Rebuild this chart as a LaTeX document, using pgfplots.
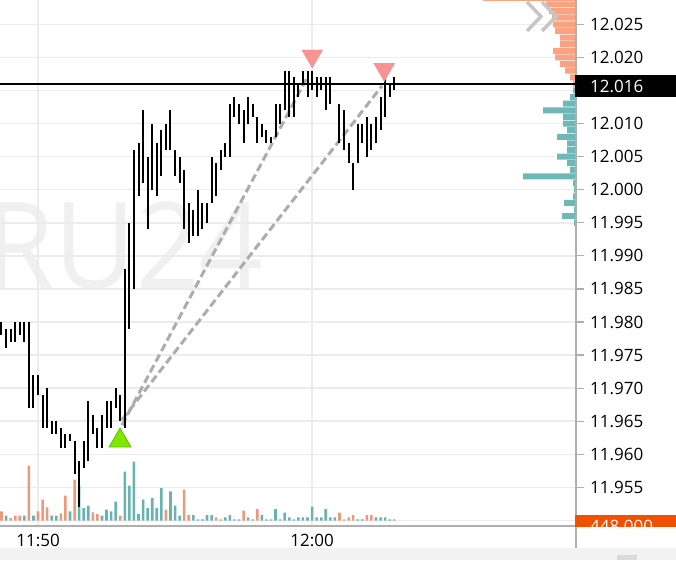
\documentclass[border=0pt]{standalone}
\usepackage{fontspec}
\setmainfont{Open Sans}
\usepackage{pgfplots}
\usepackage{pgfplotstable}
\pgfplotsset{compat=1.18}

\definecolor{upvol}{RGB}{104,178,178}
\definecolor{dnvol}{RGB}{238,152,122}
\definecolor{profup}{RGB}{110,184,184}
\definecolor{profdn}{RGB}{250,162,130}
\definecolor{gridc}{RGB}{236,236,236}
\definecolor{axisc}{RGB}{175,175,175}
\definecolor{markup}{RGB}{128,230,0}
\definecolor{markupdraw}{RGB}{96,190,0}
\definecolor{markdn}{RGB}{246,148,148}
\definecolor{trend}{RGB}{172,172,172}
\definecolor{volbox}{RGB}{240,80,0}

\newcommand\tickfont{\fontsize{17}{20}\selectfont}

% 10-second bars, k = 0 is 11:48:40 (k = 8 -> 11:50, k = 68 -> 12:00)
\pgfplotstableread{
k lo hi
0 11.978 11.980
1 11.976 11.979
2 11.977 11.979
3 11.977 11.980
4 11.978 11.980
5 11.977 11.980
6 11.967 11.980
7 11.967 11.972
8 11.969 11.972
9 11.964 11.969
10 11.964 11.970
11 11.963 11.965
12 11.963 11.965
13 11.961 11.964
14 11.961 11.963
15 11.962 11.963
16 11.957 11.962
17 11.952 11.959
18 11.958 11.962
19 11.959 11.968
20 11.963 11.966
21 11.961 11.964
22 11.961 11.966
23 11.964 11.968
24 11.964 11.968
25 11.967 11.970
26 11.965 11.969
27 11.964 11.988
28 11.979 11.995
29 11.985 12.006
30 11.999 12.007
31 12.001 12.012
32 11.994 12.005
33 12.000 12.010
34 11.999 12.007
35 12.002 12.009
36 12.006 12.010
37 12.006 12.012
38 12.002 12.006
39 12.001 12.005
40 11.994 12.003
41 11.992 11.998
42 11.993 11.997
43 11.993 12.000
44 11.994 11.998
45 11.995 11.998
46 11.998 12.005
47 11.999 12.004
48 12.003 12.006
49 12.005 12.007
50 12.005 12.013
51 12.011 12.014
52 12.010 12.013
53 12.007 12.012
54 12.010 12.014
55 12.011 12.013
56 12.007 12.011
57 12.008 12.010
58 12.007 12.009
59 12.007 12.008
60 12.008 12.013
61 12.010 12.013
62 12.012 12.018
63 12.011 12.018
64 12.011 12.017
65 12.014 12.016
66 12.016 12.018
67 12.014 12.018
68 12.015 12.018
69 12.014 12.017
70 12.015 12.017
71 12.012 12.017
72 12.013 12.017
74 12.007 12.013
75 12.006 12.012
76 12.004 12.007
77 12.000 12.004
78 12.004 12.010
79 12.007 12.010
80 12.005 12.011
81 12.006 12.010
82 12.007 12.011
83 12.009 12.014
84 12.011 12.017
85 12.014 12.016
86 12.015 12.017
}\price

% volume of the down bars
\pgfplotstableread{
k v
0 93
2 27
3 50
4 50
6 550
8 93
9 210
10 133
13 73
14 250
16 410
20 83
21 67
26 50
36 110
40 310
41 57
47 33
48 13
53 100
56 117
74 80
75 13
76 33
77 57
80 57
81 57
86 13
}\voldn

% volume of the up bars
\pgfplotstableread{
k v
1 50
5 50
7 50
11 50
12 50
15 93
17 350
18 127
19 150
22 50
23 110
24 93
25 190
27 490
28 350
29 590
30 67
31 210
32 127
33 227
34 127
35 327
37 293
38 150
39 50
42 57
43 13
44 13
45 57
46 57
49 33
50 57
51 13
52 13
54 33
55 13
57 57
58 13
59 13
60 117
61 13
62 80
63 33
64 13
65 33
66 33
67 33
68 140
69 33
70 33
71 117
72 33
73 33
78 13
79 13
82 33
83 33
84 33
85 13
}\volup

% volume profile by price level
\pgfplotstableread{
lvl len
12.029 93
12.028 30
12.027 27
12.026 24
12.025 23
12.024 21
12.023 16
12.022 16
12.021 23
12.020 21
12.019 16
12.018 11
12.017 6
12.016 3
}\profsell

\pgfplotstableread{
lvl len
12.015 3
12.014 6
12.013 13
12.012 33
12.011 13
12.010 13
12.009 9
12.008 19
12.007 9
12.006 9
12.005 19
12.004 9
12.003 6
12.002 53
12.001 3
12.000 2
11.999 3
11.998 12
11.997 2
11.996 14
11.995 2
}\profbuy

\pgfplotsset{
  chartbox/.style={scale only axis, width=576pt, height=526pt,
    at={(0pt,0pt)}, anchor=south west},
  pricelim/.style={xmin=-0.3284, xmax=125.79, ymin=11.94916, ymax=12.02868},
}

\begin{document}
\begin{tikzpicture}
\path[use as bounding box] (0pt,-34pt) rectangle (676pt,526pt);

% watermark
\node[anchor=base east, inner sep=0pt, text=gray!12,
  font=\fontsize{120}{120}\selectfont] at (264pt,238pt) {\scalebox{0.93}[1]{RU24}};

% frame, grid and ticks
\begin{axis}[chartbox, pricelim,
  axis x line*=bottom, axis y line*=right,
  axis line style={axisc, line width=1.7pt},
  xtick={8,68}, xticklabels={11:50,12:00},
  ytick={11.955,11.960,11.965,11.970,11.975,11.980,11.985,11.990,11.995,12.000,12.005,12.010,12.020,12.025},
  extra y ticks={11.950,12.015}, extra y tick labels={},
  scaled y ticks=false,
  grid=major, major grid style={gridc, line width=1.5pt},
  tick align=outside, major tick length=8pt,
  xtick style={draw=none}, ytick style={axisc, line width=1.2pt},
  tick label style={font=\tickfont, text=black},
  yticklabel style={anchor=west, inner sep=0pt, xshift=6pt,
    /pgf/number format/fixed, /pgf/number format/fixed zerofill,
    /pgf/number format/precision=3, /pgf/number format/assume math mode=true},
  xticklabel style={anchor=north, inner sep=0pt, yshift=0pt},
]
\addplot[draw=none, forget plot] coordinates {(0,12)};
\end{axis}

% volume
\begin{axis}[chartbox, hide axis, xmin=-0.3284, xmax=125.79, ymin=-53, ymax=5207]
\addplot[ybar, bar width=2.6pt, bar shift=0pt, fill=dnvol, draw=none] table[x=k, y=v] {\voldn};
\addplot[ybar, bar width=2.6pt, bar shift=0pt, fill=upvol, draw=none] table[x=k, y=v] {\volup};
\end{axis}

% volume profile at the right edge
\begin{axis}[chartbox, hide axis, x dir=reverse, xmin=0, xmax=576,
  ymin=11.94916, ymax=12.02868]
\addplot[xbar, bar width=6pt, bar shift=0pt, fill=profdn, draw=none] table[x=len, y=lvl] {\profsell};
\addplot[xbar, bar width=6pt, bar shift=0pt, fill=profup, draw=none] table[x=len, y=lvl] {\profbuy};
\end{axis}

% price bars and drawings
\begin{axis}[chartbox, hide axis, pricelim]
\addplot[trend, line width=3pt, dash pattern=on 8pt off 4pt] coordinates {(26.38,11.9644) (67.11,12.0172)};
\addplot[trend, line width=3pt, dash pattern=on 8pt off 4pt] coordinates {(26.38,11.9652) (83.32,12.0157)};
\addplot[draw=none, mark=none,
  error bars/.cd, y dir=plus, y explicit, error mark=none,
  error bar style={draw=black, line width=2pt, solid}]
  table[x=k, y=lo, y error plus expr=\thisrow{hi}-\thisrow{lo}] {\price};
\addplot[black, line width=1.5pt] coordinates {(-1,12.016) (130,12.016)};
\addplot[only marks, mark=triangle*, mark size=12.7pt,
  mark options={fill=markup, draw=markupdraw, line width=0.8pt}] coordinates {(25.95,11.96205)};
\addplot[only marks, mark=triangle*, mark size=12.3pt, color=markdn,
  mark options={rotate=180, fill=markdn, draw=markdn, line width=0.1pt}] coordinates {(68.03,12.02022) (83.80,12.01819)};
\end{axis}

% chevrons over the profile
\draw[gray!45, line width=3.5pt] (527pt,524pt) -- (541pt,509.5pt) -- (527pt,495pt);
\draw[gray!45, line width=3.5pt] (542pt,524pt) -- (556pt,509.5pt) -- (542pt,495pt);

% bottom strip and right axis line
\fill[gray!10] (0pt,-22pt) rectangle (676pt,-34pt);
\fill[gray!28] (617pt,-29pt) rectangle (637pt,-34pt);
\draw[axisc, line width=1.7pt] (576pt,526pt) -- (576pt,-22pt);

% last price
\fill[black] (575pt,429pt) rectangle (676pt,451pt);
\node[anchor=west, inner sep=0pt, text=white, font=\tickfont] at (590pt,440pt) {12.016};

% volume label, cut at the bottom
\begin{scope}
\clip (575pt,-1pt) rectangle (676pt,11pt);
\fill[volbox] (575pt,-1pt) rectangle (676pt,11pt);
\node[anchor=west, inner sep=0pt, text=white, font=\tickfont] at (590pt,0pt) {448.000};
\end{scope}
\end{tikzpicture}
\end{document}
